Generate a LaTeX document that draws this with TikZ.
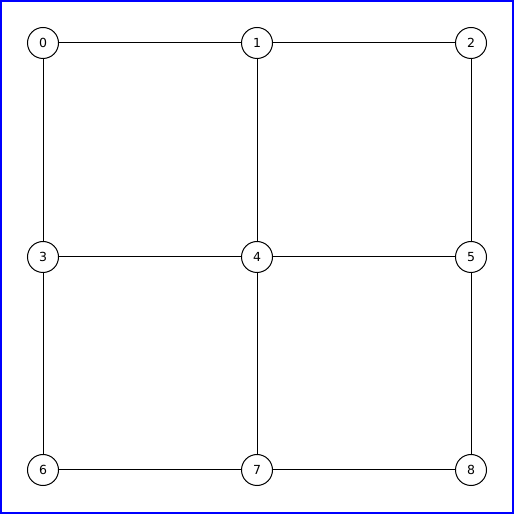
\documentclass[tikz,border=0pt]{standalone}
\usepackage{fontspec}
\setmainfont{DejaVu Sans}
\begin{document}
\begin{tikzpicture}[x=1pt,y=1pt,
  vert/.style={circle,draw=black,fill=white,line width=1pt,minimum size=31pt,inner sep=0pt,font=\fontsize{12.5}{14}\selectfont},
  edge/.style={draw=black,line width=1pt}]
\useasboundingbox (0,0) rectangle (514,514);
\definecolor{bord}{RGB}{0,0,255}
\draw[bord,line width=2pt] (1,1) rectangle (513,513);
\node[vert] (n0) at (43,471) {0};
\node[vert] (n1) at (257,471) {1};
\node[vert] (n2) at (471,471) {2};
\node[vert] (n3) at (43,257) {3};
\node[vert] (n4) at (257,257) {4};
\node[vert] (n5) at (471,257) {5};
\node[vert] (n6) at (43,44) {6};
\node[vert] (n7) at (257,44) {7};
\node[vert] (n8) at (471,44) {8};
\draw[edge] (n0) -- (n1);
\draw[edge] (n1) -- (n2);
\draw[edge] (n3) -- (n4);
\draw[edge] (n4) -- (n5);
\draw[edge] (n6) -- (n7);
\draw[edge] (n7) -- (n8);
\draw[edge] (n0) -- (n3);
\draw[edge] (n3) -- (n6);
\draw[edge] (n1) -- (n4);
\draw[edge] (n4) -- (n7);
\draw[edge] (n2) -- (n5);
\draw[edge] (n5) -- (n8);
\end{tikzpicture}
\end{document}
